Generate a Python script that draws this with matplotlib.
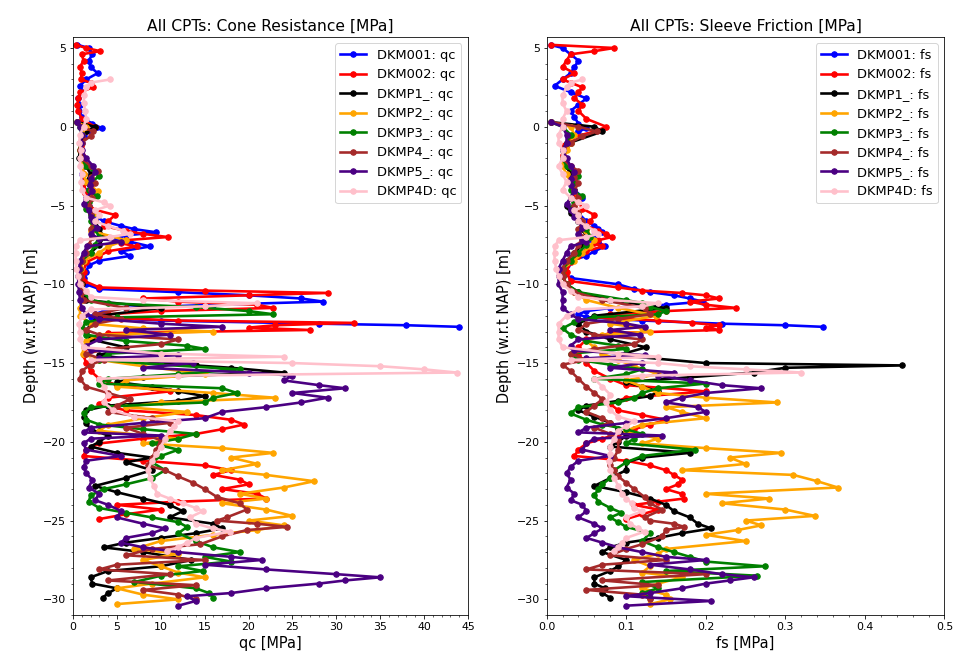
"""Cone resistance and sleeve friction for all CPTs, plotted against depth."""
import matplotlib
matplotlib.use("Agg")
import matplotlib.pyplot as plt
from matplotlib.ticker import AutoMinorLocator

# --- DKM001 ---------------------------------------------------------------
DKM001_DEPTH = [5.2, 5.0, 4.6, 4.2, 3.8, 3.4, 3.0, 2.6, 2.2, 1.8,
                1.4, 1.0, 0.6, 0.2, -0.1, -0.3, -0.6, -1.0, -1.5, -2.0,
                -2.5, -3.0, -3.5, -4.0, -4.5, -5.0, -5.5, -6.0, -6.3, -6.5,
                -6.7, -6.9, -7.1, -7.3, -7.6, -7.9, -8.2, -8.5, -8.8, -9.2,
                -9.6, -10.0, -10.3, -10.5, -10.7, -10.9, -11.1, -11.3, -11.5, -11.7,
                -11.9, -12.1, -12.3, -12.5, -12.6, -12.7]
DKM001_QC = [0.5, 1.8, 2.2, 1.8, 2.0, 2.8, 1.5, 0.8, 1.0, 0.6,
             0.8, 0.7, 1.0, 2.2, 3.3, 2.0, 1.2, 1.0, 0.9, 1.0,
             1.1, 1.0, 1.2, 1.3, 1.5, 1.8, 2.0, 3.5, 5.5, 7.0,
             9.5, 6.0, 5.0, 6.5, 8.8, 5.5, 6.5, 3.0, 1.8, 1.5,
             1.3, 1.5, 3.0, 12.0, 20.0, 26.0, 28.5, 16.0, 6.0, 3.5,
             2.5, 2.0, 10.0, 28.0, 38.0, 44.0]
DKM001_FS = [0.005, 0.02, 0.03, 0.04, 0.035, 0.03, 0.02, 0.01, 0.03, 0.05,
             0.04, 0.03, 0.035, 0.04, 0.05, 0.04, 0.03, 0.025, 0.02, 0.02,
             0.025, 0.03, 0.03, 0.035, 0.045, 0.035, 0.04, 0.05, 0.06, 0.065,
             0.07, 0.06, 0.055, 0.065, 0.073, 0.06, 0.05, 0.03, 0.025, 0.02,
             0.03, 0.09, 0.11, 0.13, 0.16, 0.18, 0.196, 0.15, 0.08, 0.05,
             0.04, 0.05, 0.12, 0.22, 0.3, 0.347]

# --- DKM002 ---------------------------------------------------------------
DKM002_DEPTH = [5.2, 5.0, 4.8, 4.6, 4.2, 3.8, 3.4, 3.0, 2.8, 2.5,
                2.2, 1.8, 1.4, 1.0, 0.5, 0.0, -0.3, -0.7, -1.2, -1.8,
                -2.4, -3.0, -3.6, -4.2, -4.8, -5.2, -5.6, -6.0, -6.3, -6.6,
                -6.8, -7.0, -7.2, -7.4, -7.6, -7.9, -8.2, -8.6, -9.2, -9.8,
                -10.2, -10.4, -10.55, -10.7, -10.9, -11.1, -11.3, -11.5, -11.7, -11.9,
                -12.1, -12.3, -12.45, -12.6, -12.75, -12.9, -13.1, -13.5, -14.0, -14.5,
                -15.0, -15.5, -16.0, -16.4, -16.8, -17.2, -17.6, -18.0, -18.3, -18.6,
                -18.9, -19.2, -19.5, -19.8, -20.1, -20.5, -20.9, -21.2, -21.5, -21.8,
                -22.1, -22.4, -22.7, -23.0, -23.3, -23.6, -23.8, -24.0, -24.3, -24.6,
                -24.9]
DKM002_QC = [0.3, 1.5, 3.1, 1.0, 1.2, 0.8, 1.0, 0.9, 2.0, 2.3,
             0.8, 0.6, 0.5, 0.6, 1.0, 2.5, 1.5, 1.0, 0.9, 1.0,
             1.1, 1.2, 1.3, 1.4, 1.5, 2.0, 4.8, 4.0, 3.5, 6.0,
             8.0, 10.8, 6.0, 5.5, 7.3, 4.0, 3.0, 1.5, 1.2, 1.3,
             3.0, 15.0, 29.0, 20.0, 8.0, 12.0, 21.0, 22.8, 10.0, 4.0,
             3.0, 12.0, 32.0, 23.0, 20.0, 27.0, 4.0, 2.0, 1.5, 1.2,
             1.5, 2.0, 3.0, 5.0, 11.0, 4.0, 3.0, 6.0, 14.0, 18.0,
             19.5, 17.0, 14.0, 8.0, 3.0, 1.5, 1.2, 8.0, 15.0, 18.0,
             16.0, 19.0, 20.0, 17.0, 21.0, 22.0, 12.0, 5.0, 10.0, 6.0,
             3.0]
DKM002_FS = [0.005, 0.085, 0.06, 0.03, 0.025, 0.02, 0.035, 0.02, 0.03, 0.045,
             0.04, 0.035, 0.045, 0.04, 0.05, 0.075, 0.06, 0.03, 0.02, 0.02,
             0.025, 0.03, 0.03, 0.035, 0.04, 0.045, 0.06, 0.055, 0.05, 0.065,
             0.075, 0.082, 0.065, 0.06, 0.07, 0.05, 0.04, 0.03, 0.025, 0.03,
             0.09, 0.12, 0.17, 0.2, 0.217, 0.18, 0.2, 0.238, 0.15, 0.08,
             0.06, 0.14, 0.183, 0.217, 0.2, 0.217, 0.08, 0.05, 0.04, 0.04,
             0.05, 0.06, 0.08, 0.1, 0.2, 0.1, 0.08, 0.09, 0.12, 0.15,
             0.13, 0.11, 0.09, 0.07, 0.05, 0.04, 0.035, 0.1, 0.13, 0.15,
             0.16, 0.17, 0.165, 0.15, 0.17, 0.173, 0.14, 0.11, 0.14, 0.12,
             0.1]

# --- DKMP1_ ---------------------------------------------------------------
DKMP1_DEPTH = [0.3, 0.0, -0.3, -1.0, -2.0, -2.5, -3.0, -3.5, -4.0, -4.5,
               -5.0, -5.5, -6.0, -6.5, -7.0, -7.5, -8.0, -8.5, -9.0, -9.5,
               -10.0, -10.5, -11.0, -11.5, -12.0, -12.5, -13.0, -13.5, -14.0, -14.5,
               -15.0, -15.15, -15.3, -15.6, -15.9, -16.2, -16.5, -16.8, -17.1, -17.4,
               -17.7, -18.0, -18.4, -18.8, -19.2, -19.6, -20.0, -20.3, -20.7, -21.0,
               -21.3, -21.8, -22.3, -22.8, -23.2, -23.6, -24.0, -24.4, -24.8, -25.2,
               -25.5, -25.8, -26.1, -26.4, -26.7, -27.0, -27.5, -27.9, -28.2, -28.6,
               -29.0, -29.3, -29.6, -29.9]
DKMP1_QC = [0.5, 2.5, 1.5, 0.8, 0.7, 1.5, 2.0, 1.5, 2.0, 1.8,
            1.5, 2.0, 2.5, 3.0, 3.5, 3.0, 2.0, 1.0, 0.8, 0.8,
            1.0, 1.2, 1.5, 10.0, 3.0, 2.0, 1.5, 2.0, 6.0, 3.0,
            10.0, 14.0, 18.0, 24.0, 8.0, 5.0, 9.0, 12.0, 15.0, 12.0,
            4.0, 1.5, 1.2, 1.5, 2.0, 4.0, 3.0, 2.0, 5.0, 9.0,
            6.0, 9.0, 6.0, 2.5, 5.0, 8.0, 11.0, 12.5, 11.0, 16.0,
            17.0, 14.0, 10.0, 6.0, 3.5, 8.0, 13.5, 10.0, 4.0, 2.0,
            2.2, 5.0, 4.0, 3.4]
DKMP1_FS = [0.005, 0.06, 0.07, 0.03, 0.02, 0.025, 0.03, 0.03, 0.035, 0.03,
            0.025, 0.03, 0.04, 0.045, 0.05, 0.045, 0.035, 0.025, 0.02, 0.02,
            0.025, 0.04, 0.08, 0.15, 0.06, 0.04, 0.05, 0.08, 0.125, 0.09,
            0.2, 0.447, 0.3, 0.26, 0.18, 0.1, 0.12, 0.14, 0.13, 0.09,
            0.05, 0.04, 0.06, 0.08, 0.09, 0.1, 0.09, 0.08, 0.18, 0.12,
            0.1, 0.1, 0.08, 0.06, 0.1, 0.13, 0.15, 0.16, 0.18, 0.19,
            0.207, 0.17, 0.14, 0.1, 0.08, 0.07, 0.1, 0.09, 0.08, 0.06,
            0.06, 0.073, 0.07, 0.08]

# --- DKMP2_ ---------------------------------------------------------------
DKMP2_DEPTH = [0.3, 0.0, -0.5, -1.0, -1.5, -2.0, -2.5, -3.0, -3.5, -4.1,
               -4.5, -5.0, -5.5, -6.0, -6.6, -7.2, -7.6, -8.0, -8.5, -9.0,
               -9.5, -10.0, -10.5, -11.0, -11.5, -12.0, -12.5, -12.8, -13.0, -13.2,
               -13.6, -14.0, -14.4, -14.8, -15.2, -15.7, -16.1, -16.5, -16.9, -17.2,
               -17.5, -17.8, -18.1, -18.5, -18.9, -19.3, -19.8, -20.1, -20.4, -20.7,
               -21.0, -21.4, -21.8, -22.1, -22.5, -22.9, -23.3, -23.6, -23.9, -24.3,
               -24.7, -25.0, -25.3, -25.6, -25.9, -26.3, -26.8, -27.1, -27.5, -27.9,
               -28.3, -28.6, -29.0, -29.3, -29.7, -30.0, -30.3]
DKMP2_QC = [0.5, 1.5, 1.0, 0.8, 0.8, 1.0, 1.0, 1.2, 1.5, 2.8,
            2.0, 1.5, 2.5, 2.2, 2.0, 6.0, 4.0, 3.0, 1.2, 0.9,
            0.8, 0.9, 1.0, 1.0, 0.8, 0.8, 2.0, 8.0, 16.0, 3.0,
            1.5, 1.2, 1.1, 3.0, 8.0, 15.0, 6.0, 5.0, 16.0, 23.0,
            10.0, 6.0, 13.0, 8.0, 4.0, 3.0, 12.0, 8.0, 17.0, 22.8,
            18.0, 21.0, 17.0, 22.0, 27.5, 24.0, 19.0, 22.0, 17.0, 22.0,
            25.0, 20.0, 24.0, 21.0, 16.0, 10.0, 7.0, 12.0, 8.0, 10.0,
            12.0, 15.0, 9.0, 5.0, 8.0, 12.0, 5.0]
DKMP2_FS = [0.005, 0.03, 0.035, 0.03, 0.025, 0.02, 0.02, 0.025, 0.03, 0.035,
            0.04, 0.035, 0.04, 0.045, 0.05, 0.06, 0.055, 0.045, 0.035, 0.02,
            0.02, 0.025, 0.035, 0.05, 0.09, 0.138, 0.08, 0.12, 0.13, 0.07,
            0.05, 0.06, 0.07, 0.09, 0.11, 0.14, 0.1, 0.12, 0.14, 0.2,
            0.29, 0.15, 0.17, 0.2, 0.12, 0.1, 0.14, 0.12, 0.2, 0.295,
            0.23, 0.25, 0.17, 0.31, 0.34, 0.366, 0.2, 0.28, 0.22, 0.3,
            0.337, 0.25, 0.27, 0.24, 0.2, 0.25, 0.15, 0.14, 0.11, 0.13,
            0.12, 0.17, 0.14, 0.12, 0.15, 0.155, 0.13]

# --- DKMP3_ ---------------------------------------------------------------
DKMP3_DEPTH = [0.3, 0.0, -0.5, -1.0, -1.5, -2.0, -2.5, -3.1, -3.6, -4.0,
               -4.4, -4.8, -5.2, -5.6, -6.0, -6.5, -7.0, -7.5, -8.0, -8.5,
               -9.0, -9.5, -10.0, -10.5, -11.0, -11.2, -11.45, -11.7, -11.9, -12.1,
               -12.4, -12.8, -13.2, -13.6, -13.9, -14.1, -14.4, -14.8, -15.1, -15.4,
               -15.7, -16.0, -16.3, -16.6, -16.9, -17.2, -17.5, -17.8, -18.2, -18.6,
               -18.9, -19.2, -19.5, -19.8, -20.1, -20.5, -20.9, -21.3, -21.8, -22.3,
               -22.7, -23.0, -23.4, -23.8, -24.2, -24.5, -24.8, -25.1, -25.4, -25.8,
               -26.3, -26.7, -27.0, -27.3, -27.6, -27.9, -28.2, -28.5, -28.9, -29.3,
               -29.6, -29.9]
DKMP3_QC = [0.5, 0.8, 1.0, 0.8, 0.8, 1.0, 1.5, 3.0, 2.0, 1.8,
            2.7, 1.8, 1.5, 2.0, 2.0, 2.5, 3.0, 2.5, 2.0, 1.0,
            0.8, 0.8, 0.9, 1.2, 2.0, 4.0, 14.0, 20.0, 22.8, 5.0,
            1.5, 1.0, 1.5, 6.0, 13.0, 15.0, 4.0, 3.0, 10.0, 19.0,
            12.0, 4.0, 3.0, 17.0, 18.7, 16.0, 15.0, 2.0, 1.2, 1.5,
            3.0, 8.0, 14.0, 12.0, 9.0, 12.0, 10.0, 9.0, 10.5, 9.0,
            6.0, 3.5, 2.0, 1.8, 3.0, 6.0, 9.0, 12.0, 13.0, 12.0,
            14.0, 16.0, 19.0, 15.0, 18.0, 12.0, 14.8, 10.0, 7.0, 14.0,
            15.5, 16.0]
DKMP3_FS = [0.005, 0.02, 0.03, 0.025, 0.02, 0.02, 0.025, 0.04, 0.035, 0.03,
            0.045, 0.035, 0.03, 0.04, 0.04, 0.05, 0.055, 0.05, 0.04, 0.03,
            0.02, 0.02, 0.025, 0.04, 0.1, 0.12, 0.13, 0.15, 0.14, 0.06,
            0.035, 0.02, 0.03, 0.05, 0.09, 0.1, 0.03, 0.04, 0.08, 0.12,
            0.1, 0.06, 0.2, 0.14, 0.12, 0.11, 0.09, 0.04, 0.03, 0.05,
            0.07, 0.1, 0.12, 0.11, 0.1, 0.186, 0.12, 0.1, 0.085, 0.08,
            0.07, 0.065, 0.06, 0.065, 0.08, 0.094, 0.08, 0.09, 0.1, 0.13,
            0.12, 0.14, 0.16, 0.18, 0.2, 0.274, 0.15, 0.265, 0.12, 0.14,
            0.12, 0.13]

# --- DKMP4_ ---------------------------------------------------------------
DKMP4_DEPTH = [0.3, 0.0, -0.3, -0.6, -1.0, -1.5, -2.0, -2.5, -2.8, -3.2,
               -3.6, -4.0, -4.5, -5.0, -5.5, -6.0, -6.5, -7.0, -7.5, -8.0,
               -8.5, -9.0, -9.5, -10.0, -10.5, -11.0, -11.5, -11.9, -12.2, -12.5,
               -12.9, -13.2, -13.5, -13.8, -14.1, -14.4, -14.8, -15.1, -15.5, -16.0,
               -16.5, -16.9, -17.3, -17.7, -18.1, -18.5, -18.8, -19.1, -19.5, -19.9,
               -20.5, -21.0, -21.5, -21.8, -22.2, -22.6, -23.0, -23.5, -23.9, -24.3,
               -24.8, -25.0, -25.2, -25.4, -25.6, -26.0, -26.5, -26.8, -27.2, -27.5,
               -27.8, -28.1, -28.4, -28.8, -29.1, -29.4, -29.7, -30.0]
DKMP4_QC = [0.5, 1.0, 2.3, 2.0, 1.0, 0.8, 1.0, 2.0, 2.8, 2.0,
            2.5, 2.0, 2.2, 1.8, 2.0, 2.5, 2.0, 2.2, 1.8, 1.5,
            1.0, 0.8, 0.8, 0.9, 1.0, 1.2, 6.0, 2.5, 5.5, 2.5,
            1.5, 3.0, 12.0, 10.0, 4.0, 1.5, 3.5, 2.0, 1.0, 0.8,
            1.5, 4.0, 6.5, 5.0, 4.0, 9.0, 11.0, 6.0, 8.0, 10.0,
            9.5, 9.0, 8.5, 10.5, 12.0, 13.7, 15.0, 16.4, 19.0, 19.8,
            17.5, 16.4, 21.0, 24.4, 19.8, 17.0, 14.5, 9.0, 6.0, 15.0,
            5.0, 3.0, 11.0, 4.0, 14.0, 8.0, 12.0, 14.0]
DKMP4_FS = [0.005, 0.04, 0.063, 0.045, 0.03, 0.02, 0.02, 0.03, 0.04, 0.035,
            0.04, 0.035, 0.04, 0.035, 0.04, 0.045, 0.04, 0.045, 0.04, 0.035,
            0.025, 0.02, 0.02, 0.025, 0.035, 0.07, 0.123, 0.13, 0.09, 0.05,
            0.04, 0.06, 0.12, 0.11, 0.06, 0.03, 0.05, 0.02, 0.03, 0.04,
            0.05, 0.06, 0.07, 0.06, 0.05, 0.07, 0.08, 0.06, 0.08, 0.09,
            0.09, 0.085, 0.08, 0.085, 0.09, 0.1, 0.11, 0.123, 0.13, 0.145,
            0.123, 0.13, 0.16, 0.173, 0.15, 0.145, 0.12, 0.1, 0.08, 0.15,
            0.07, 0.05, 0.2, 0.07, 0.14, 0.05, 0.12, 0.13]

# --- DKMP5_ ---------------------------------------------------------------
DKMP5_DEPTH = [0.3, 0.0, -0.5, -1.0, -1.5, -2.0, -2.5, -2.9, -3.3, -3.7,
               -4.1, -4.5, -4.9, -5.3, -5.7, -6.0, -6.4, -6.8, -7.1, -7.3,
               -7.6, -8.0, -8.5, -9.0, -9.5, -10.0, -10.5, -11.0, -11.5, -11.9,
               -12.2, -12.5, -12.7, -12.9, -13.2, -13.5, -13.9, -14.2, -14.5, -14.7,
               -15.0, -15.3, -15.6, -15.8, -16.1, -16.4, -16.6, -16.9, -17.2, -17.5,
               -17.8, -18.1, -18.5, -18.8, -19.1, -19.4, -19.6, -19.8, -20.1, -20.5,
               -20.9, -21.2, -21.6, -22.0, -22.4, -22.9, -23.3, -23.7, -24.0, -24.4,
               -24.8, -25.2, -25.5, -25.8, -26.1, -26.4, -26.7, -27.0, -27.3, -27.5,
               -27.8, -28.1, -28.4, -28.6, -28.8, -29.0, -29.3, -29.6, -29.8, -30.1,
               -30.4]
DKMP5_QC = [0.5, 0.8, 1.0, 0.9, 1.0, 1.5, 2.3, 2.5, 2.0, 1.9,
            2.2, 1.5, 1.2, 1.8, 2.0, 2.3, 2.7, 2.0, 3.0, 5.5,
            1.6, 1.2, 0.8, 0.7, 0.6, 0.6, 0.7, 0.8, 1.0, 1.5,
            3.0, 10.0, 17.0, 6.0, 11.0, 3.0, 1.5, 2.0, 12.0, 3.0,
            13.7, 8.0, 20.0, 25.0, 24.0, 28.0, 31.0, 25.0, 29.0, 26.0,
            22.0, 17.0, 15.0, 8.0, 2.0, 1.2, 10.0, 2.0, 1.2, 1.5,
            5.5, 1.5, 1.2, 1.5, 2.2, 1.8, 3.0, 2.5, 4.0, 5.5,
            5.0, 8.0, 10.5, 9.0, 6.0, 5.5, 8.0, 12.0, 18.0, 21.5,
            15.0, 22.0, 30.0, 35.0, 31.0, 28.0, 22.0, 18.0, 13.0, 14.0,
            12.0]
DKMP5_FS = [0.005, 0.02, 0.025, 0.025, 0.02, 0.025, 0.03, 0.035, 0.03, 0.03,
            0.035, 0.03, 0.025, 0.03, 0.035, 0.04, 0.045, 0.04, 0.045, 0.05,
            0.03, 0.025, 0.02, 0.015, 0.015, 0.015, 0.02, 0.02, 0.02, 0.03,
            0.04, 0.1, 0.123, 0.08, 0.117, 0.04, 0.03, 0.035, 0.123, 0.05,
            0.12, 0.08, 0.16, 0.14, 0.18, 0.22, 0.27, 0.2, 0.17, 0.15,
            0.19, 0.2, 0.15, 0.1, 0.05, 0.04, 0.145, 0.06, 0.05, 0.045,
            0.08, 0.04, 0.03, 0.025, 0.03, 0.025, 0.035, 0.03, 0.045, 0.05,
            0.04, 0.06, 0.07, 0.06, 0.05, 0.07, 0.09, 0.12, 0.15, 0.2,
            0.13, 0.18, 0.22, 0.26, 0.23, 0.2, 0.17, 0.13, 0.1, 0.207,
            0.1]

# --- DKMP4D ---------------------------------------------------------------
DKMP4D_DEPTH = [3.0, 2.8, 2.5, 2.0, 1.5, 1.0, 0.5, 0.0,
                -0.5, -1.0, -1.5, -2.0, -2.5, -3.0, -3.5, -4.0, -4.5,
                -4.8, -5.0, -5.3, -5.6, -6.0, -6.3, -6.6, -6.8, -7.0, -7.2,
                -7.6, -8.0, -8.5, -9.0, -9.5, -10.0,
                -10.4, -10.8, -11.0, -11.2, -11.4, -11.6, -12.0, -12.5, -13.0, -13.5, -14.0,
                -14.4, -14.6, -14.8, -15.0, -15.2, -15.4, -15.6, -15.8, -16.0,
                -16.5, -17.0, -17.5, -18.0, -18.4, -18.7, -19.0, -19.3, -19.8, -20.3,
                -20.8, -21.2, -21.8,
                -22.3, -22.8, -23.3, -23.6, -23.9, -24.2, -24.4, -24.8, -25.2, -25.5,
                -25.7, -26.1, -26.4, -26.7, -26.9]
DKMP4D_QC = [4.2, 2.0, 1.5, 1.3, 1.2, 1.4, 1.5, 1.2,
             0.8, 0.7, 0.9, 0.8, 0.8, 1.0, 0.9, 1.0, 1.5,
             3.5, 4.2, 2.5, 3.0, 2.5, 4.0, 5.7, 6.5, 4.2, 0.8,
             0.3, 0.3, 0.3, 0.4, 0.6, 0.8,
             1.5, 2.0, 8.0, 21.0, 15.0, 2.0, 1.0, 0.7, 0.8, 0.8, 1.2,
             10.0, 24.0, 2.0, 25.0, 35.0, 40.0, 43.7, 12.0, 3.0,
             3.5, 4.0, 3.5, 4.6, 7.0, 12.0, 11.5, 11.0, 10.5, 10.0,
             9.5, 9.0, 8.5,
             8.8, 9.2, 9.6, 11.0, 12.5, 14.0, 14.8, 13.3, 14.0, 16.0,
             17.9, 14.0, 13.0, 12.0, 10.7]
DKMP4D_FS = [0.045, 0.03, 0.025, 0.02, 0.02, 0.025, 0.02, 0.02,
             0.015, 0.015, 0.02, 0.02, 0.015, 0.02, 0.025, 0.02, 0.03,
             0.04, 0.05, 0.035, 0.04, 0.04, 0.05, 0.06, 0.065, 0.05, 0.015,
             0.01, 0.01, 0.01, 0.012, 0.015, 0.02,
             0.03, 0.04, 0.08, 0.14, 0.12, 0.04, 0.025, 0.015, 0.015, 0.015, 0.02,
             0.09, 0.14, 0.03, 0.14, 0.18, 0.25, 0.32, 0.12, 0.06,
             0.07, 0.08, 0.075, 0.08, 0.09, 0.11, 0.1, 0.09, 0.085, 0.08,
             0.08, 0.078, 0.08,
             0.085, 0.09, 0.095, 0.1, 0.107, 0.11, 0.12, 0.1, 0.105, 0.115,
             0.123, 0.1, 0.095, 0.09, 0.085]

CPT_NAMES = ["DKM001", "DKM002", "DKMP1_", "DKMP2_", "DKMP3_", "DKMP4_", "DKMP5_", "DKMP4D"]
CPT_COLOURS = ["blue", "red", "black", "orange", "green", "brown", "indigo", "pink"]
CPT_DEPTH = [DKM001_DEPTH, DKM002_DEPTH, DKMP1_DEPTH, DKMP2_DEPTH,
             DKMP3_DEPTH, DKMP4_DEPTH, DKMP5_DEPTH, DKMP4D_DEPTH]
CPT_QC = [DKM001_QC, DKM002_QC, DKMP1_QC, DKMP2_QC,
          DKMP3_QC, DKMP4_QC, DKMP5_QC, DKMP4D_QC]
CPT_FS = [DKM001_FS, DKM002_FS, DKMP1_FS, DKMP2_FS,
          DKMP3_FS, DKMP4_FS, DKMP5_FS, DKMP4D_FS]

DPI = 72
fig = plt.figure(figsize=(954 / DPI, 660 / DPI), dpi=DPI)
ax_qc = fig.add_axes([0.0765, 0.068, 0.414, 0.876])
ax_fs = fig.add_axes([0.573, 0.068, 0.417, 0.876])

for name, colour, depth, qc, fs in zip(CPT_NAMES, CPT_COLOURS, CPT_DEPTH, CPT_QC, CPT_FS):
    ax_qc.plot(qc, depth, marker=".", ms=11, lw=2.6, color=colour, label=f"{name}: qc")
    ax_fs.plot(fs, depth, marker=".", ms=11, lw=2.6, color=colour, label=f"{name}: fs")

panels = [(ax_qc, "All CPTs: Cone Resistance [MPa]", "qc [MPa]", 45),
          (ax_fs, "All CPTs: Sleeve Friction [MPa]", "fs [MPa]", 0.5)]
for ax, title, xlabel, xmax in panels:
    ax.set_title(title, fontsize=15.5)
    ax.set_xlabel(xlabel, fontsize=14.5)
    ax.set_ylabel("Depth (w.r.t NAP) [m]", fontsize=14.5)
    ax.set_xlim(0, xmax)
    ax.set_ylim(-31.0, 5.7)
    ax.xaxis.set_minor_locator(AutoMinorLocator())
    ax.yaxis.set_minor_locator(AutoMinorLocator())
    ax.tick_params(labelsize=11)
    ax.legend(loc="upper right", fontsize=13)

fig.savefig("out.png", dpi=DPI)
